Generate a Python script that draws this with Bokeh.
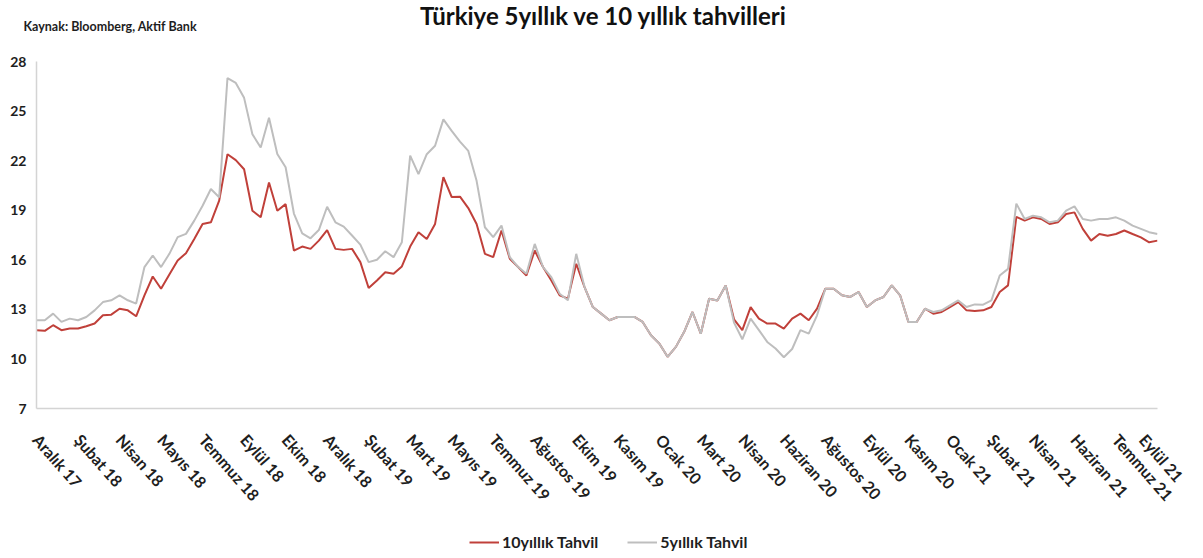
from bokeh.plotting import figure
from bokeh.layouts import column
from bokeh.models import FixedTicker, Range1d, Label, Legend, LegendItem
from bokeh.embed import file_html
from bokeh.resources import INLINE

tick_labels = ["Aralık 17", "Şubat 18", "Nisan 18", "Mayıs 18", "Temmuz 18", "Eylül 18",
               "Ekim 18", "Aralık 18", "Şubat 19", "Mart 19", "Mayıs 19", "Temmuz 19",
               "Ağustos 19", "Ekim 19", "Kasım 19", "Ocak 20", "Mart 20", "Nisan 20",
               "Haziran 20", "Ağustos 20", "Eylül 20", "Kasım 20", "Ocak 21", "Şubat 21",
               "Nisan 21", "Haziran 21", "Temmuz 21", "Eylül 21"]
points_per_label = 5

ten_year = [11.74, 11.70, 12.04, 11.74, 11.84, 11.84, 11.98, 12.14, 12.64, 12.68,
            13.04, 12.94, 12.58, 13.85, 14.99, 14.25, 15.11, 15.96, 16.40, 17.26,
            18.17, 18.27, 19.58, 22.39, 22.03, 21.48, 18.97, 18.57, 20.68, 18.97,
            19.37, 16.56, 16.80, 16.66, 17.16, 17.80, 16.66, 16.60, 16.66, 15.86,
            14.29, 14.75, 15.25, 15.15, 15.60, 16.80, 17.67, 17.26, 18.17, 21.00,
            19.80, 19.82, 19.13, 18.17, 16.36, 16.16, 17.77, 16.06, 15.56, 15.05,
            16.56, 15.56, 14.75, 13.85, 13.65, 15.76, 14.35, 13.14, 12.74, 12.34,
            12.54, 12.54, 12.54, 12.24, 11.43, 10.93, 10.13, 10.73, 11.64, 12.84,
            11.53, 13.64, 13.54, 14.45, 12.40, 11.74, 13.14, 12.44, 12.14, 12.14,
            11.84, 12.44, 12.74, 12.34, 13.04, 14.25, 14.25, 13.85, 13.75, 14.05,
            13.14, 13.54, 13.75, 14.45, 13.85, 12.24, 12.24, 13.04, 12.74, 12.84,
            13.14, 13.44, 12.94, 12.90, 12.94, 13.14, 14.05, 14.45, 18.60, 18.37,
            18.57, 18.47, 18.17, 18.27, 18.77, 18.87, 17.87, 17.16, 17.56, 17.46,
            17.56, 17.77, 17.56, 17.36, 17.06, 17.16]

five_year = [12.34, 12.34, 12.74, 12.24, 12.44, 12.34, 12.54, 12.94, 13.44, 13.55,
             13.85, 13.55, 13.35, 15.56, 16.26, 15.56, 16.36, 17.37, 17.57, 18.37,
             19.27, 20.28, 19.78, 27.00, 26.70, 25.80, 23.60, 22.80, 24.60, 22.40,
             21.60, 18.80, 17.60, 17.30, 17.80, 19.21, 18.27, 18.01, 17.47, 16.92,
             15.86, 16.00, 16.52, 16.16, 17.06, 22.30, 21.18, 22.39, 22.90, 24.50,
             23.80, 23.15, 22.59, 20.78, 17.97, 17.37, 18.07, 16.16, 15.56, 15.15,
             16.96, 15.56, 14.95, 13.95, 13.55, 16.36, 14.35, 13.14, 12.74, 12.34,
             12.54, 12.54, 12.54, 12.24, 11.43, 10.93, 10.13, 10.73, 11.64, 12.84,
             11.53, 13.64, 13.54, 14.45, 12.20, 11.19, 12.44, 11.74, 11.03, 10.63,
             10.10, 10.60, 11.74, 11.53, 12.64, 14.25, 14.25, 13.85, 13.75, 14.05,
             13.14, 13.54, 13.75, 14.45, 13.85, 12.24, 12.24, 13.04, 12.84, 12.94,
             13.24, 13.54, 13.14, 13.30, 13.28, 13.54, 15.05, 15.45, 19.40, 18.47,
             18.67, 18.57, 18.27, 18.37, 18.97, 19.23, 18.47, 18.37, 18.47, 18.47,
             18.57, 18.37, 18.07, 17.87, 17.67, 17.56]

y_ticks = [7, 10, 13, 16, 19, 22, 25, 28]

x = list(range(len(ten_year)))
FONT = "Lato"
RED = "#C0403A"
GRAY = "#BEBEBE"
TXT = "#1E1E1E"
W = 1187
HEADER_H = 47
FOOTER_H = 25
MAIN_H = 480


def bare(**kw):
    fig = figure(width=W, output_backend="svg", toolbar_location=None,
                 x_axis_location=None, y_axis_location=None, **kw)
    fig.outline_line_color = None
    fig.grid.visible = False
    fig.min_border_left = 0
    fig.min_border_right = 0
    fig.min_border_top = 0
    fig.min_border_bottom = 0
    fig.frame_align = False
    return fig


# header with title and source
header = bare(height=HEADER_H, x_range=Range1d(0, W), y_range=Range1d(0, HEADER_H))
header.add_layout(Label(x=603, y=32, text="Türkiye 5yıllık ve 10 yıllık tahvilleri",
                        text_align="center", text_baseline="alphabetic", text_font=FONT,
                        text_font_style="bold", text_font_size="24px", text_color="#111111"))
header.add_layout(Label(x=23, y=21, text="Kaynak: Bloomberg, Aktif Bank",
                        text_align="left", text_baseline="alphabetic", text_font=FONT,
                        text_font_style="bold", text_font_size="12.5px", text_color=TXT))

# main chart
p = figure(width=W, height=MAIN_H, output_backend="svg", toolbar_location=None,
           x_range=Range1d(0, len(ten_year) - 1), y_range=Range1d(7, 28))
p.min_border_left = 36
p.min_border_right = 30
p.min_border_top = 14
p.min_border_bottom = MAIN_H - 14 - 347
p.outline_line_color = None
p.xgrid.grid_line_color = None
p.ygrid.grid_line_color = None

r10 = p.line(x, ten_year, line_color=RED, line_width=2)
r5 = p.line(x, five_year, line_color=GRAY, line_width=2)

xt = [i * points_per_label for i in range(len(tick_labels))]
p.xaxis.ticker = FixedTicker(ticks=xt)
p.xaxis.major_label_overrides = {t: lab for t, lab in zip(xt, tick_labels)}
p.xaxis.major_label_orientation = -0.85
p.xaxis.major_label_text_font = FONT
p.xaxis.major_label_text_font_style = "bold"
p.xaxis.major_label_text_font_size = "16px"
p.xaxis.major_label_text_color = TXT
p.xaxis.major_label_standoff = 28
p.xaxis.major_tick_out = 0
p.xaxis.major_tick_in = 0
p.xaxis.axis_line_color = "#D4D4D4"
p.xaxis.axis_line_width = 1.5
p.xaxis.major_tick_line_color = None
p.xaxis.minor_tick_line_color = None

p.yaxis.ticker = FixedTicker(ticks=y_ticks)
p.yaxis.major_label_text_font = FONT
p.yaxis.major_label_text_font_style = "bold"
p.yaxis.major_label_text_font_size = "14px"
p.yaxis.major_label_text_color = TXT
p.yaxis.major_label_standoff = 10
p.yaxis.major_tick_out = 0
p.yaxis.major_tick_in = 0
p.yaxis.axis_line_color = "#D4D4D4"
p.yaxis.axis_line_width = 1.5
p.yaxis.major_tick_line_color = None
p.yaxis.minor_tick_line_color = None

# footer holding the legend (its own copies of the series, kept outside the visible range)
footer = bare(height=FOOTER_H, x_range=Range1d(-10, -9), y_range=Range1d(0, 1))
l10 = footer.line(x, ten_year, line_color=RED, line_width=2)
l5 = footer.line(x, five_year, line_color=GRAY, line_width=2)
legend = Legend(items=[LegendItem(label="10yıllık Tahvil", renderers=[l10]),
                       LegendItem(label="5yıllık Tahvil", renderers=[l5])],
                orientation="horizontal", location=(469, 1))
legend.padding = 0
legend.margin = 0
legend.spacing = 29
legend.glyph_width = 30
legend.glyph_height = 16
legend.label_height = 16
legend.label_standoff = 3
legend.label_text_font = FONT
legend.label_text_font_style = "bold"
legend.label_text_font_size = "16px"
legend.label_text_color = TXT
legend.border_line_color = None
legend.background_fill_alpha = 0
footer.add_layout(legend)

layout = column(header, p, footer, spacing=0)
open("out.html", "w").write(file_html(layout, INLINE))
